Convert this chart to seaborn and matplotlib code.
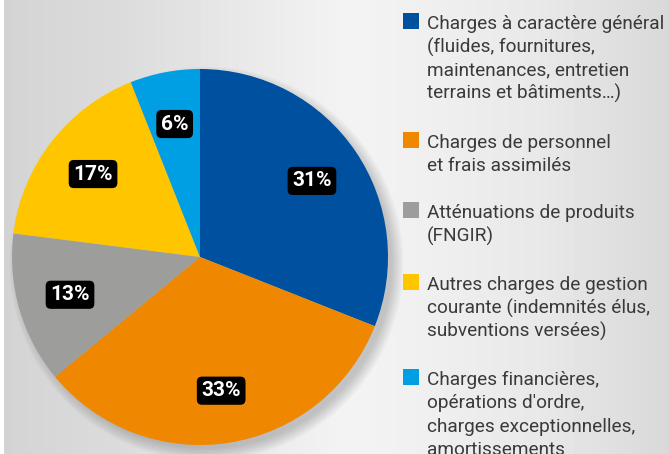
import numpy as np
import matplotlib
matplotlib.use("Agg")
import matplotlib.pyplot as plt
import seaborn as sns
from matplotlib.patches import Rectangle, Circle

sns.set_style("white")
plt.rcParams['font.family'] = ['Roboto', 'DejaVu Sans']

# data
categories = [
    "Charges à caractère général\n(fluides, fournitures,\nmaintenances, entretien\nterrains et bâtiments…)",
    "Charges de personnel\net frais assimilés",
    "Atténuations de produits\n(FNGIR)",
    "Autres charges de gestion\ncourante (indemnités élus,\nsubventions versées)",
    "Charges financières,\nopérations d'ordre,\ncharges exceptionnelles,\namortissements",
]
shares = [31, 33, 13, 17, 6]
colors = sns.color_palette(["#0050a0", "#f08700", "#9d9d9c", "#ffc600", "#009fe3"])

W, H = 669, 454
fig = plt.figure(figsize=(W / 100, H / 100), dpi=100)

# background gradient
bg = fig.add_axes([0, 0, 1, 1])
xs = np.arange(W)
shade = np.interp(xs, [0, 3, 4, 120, 260, 350, 420, 540, 669],
                  [1.0, 1.0, 0.83, 0.86, 0.92, 0.955, 0.94, 0.91, 0.85])
grad = np.tile(shade, (H, 1))
bg.imshow(grad, cmap="gray", vmin=0, vmax=1, aspect="auto", extent=[0, W, H, 0])
bg.set_xlim(0, W)
bg.set_ylim(H, 0)
bg.axis("off")

# pie
cx, cy, r = 200, 257, 188
pad = 1.12
ax = fig.add_axes([(cx - r * pad) / W, (H - cy - r * pad) / H,
                   2 * r * pad / W, 2 * r * pad / H])

# soft shadow, mostly lower right
for k in range(10):
    ax.add_patch(Circle((0.035, -0.035), 0.985 + 0.007 * k, color="black",
                        alpha=0.02, lw=0, zorder=0))

wedges, texts, autotexts = ax.pie(
    shares, colors=colors, startangle=90, counterclock=False,
    autopct="%d%%", pctdistance=0.72, radius=1.0,
    wedgeprops=dict(linewidth=0),
    textprops=dict(color="white", fontsize=15, fontweight="bold"),
)
for t in autotexts:
    t.set_bbox(dict(boxstyle="round,pad=0.22,rounding_size=0.25",
                    fc="black", ec="none"))
ax.set_xlim(-pad, pad)
ax.set_ylim(-pad, pad)
ax.set_aspect("equal")
ax.axis("off")

# legend
first_baselines = [29, 148, 218, 290, 385]
line_h = 23.3
for lab, col, yb in zip(categories, colors, first_baselines):
    bg.add_patch(Rectangle((403, yb - 16), 16, 16, color=col, lw=0))
    for i, line in enumerate(lab.split("\n")):
        bg.text(427, yb + i * line_h, line, fontsize=13.7, color="#3a3a3a",
                va="baseline", ha="left")

fig.savefig("out.png", dpi=100)
